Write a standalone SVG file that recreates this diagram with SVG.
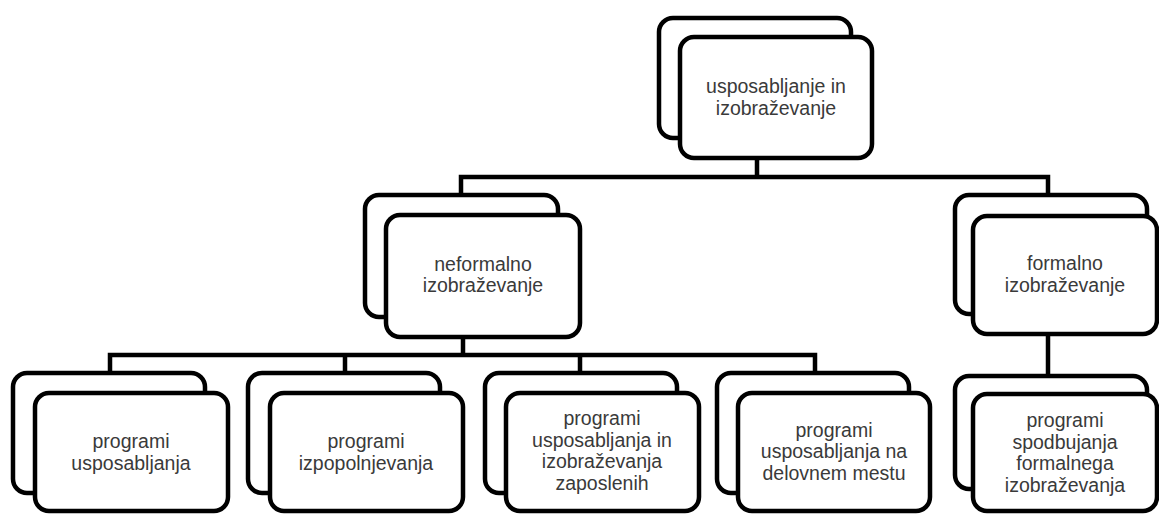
<svg xmlns="http://www.w3.org/2000/svg" width="1159" height="514" viewBox="0 0 1159 514">
<style>
.b{fill:#fff;stroke:#000;stroke-width:4.5}
.c{fill:none;stroke:#000;stroke-width:4.5}
text{font-family:"Liberation Sans",Arial,sans-serif;font-size:19.5px;fill:#3a3a3a;text-anchor:middle}
</style>
<rect width="1159" height="514" fill="#fff"/>
<g id="connectors">
<path class="c" d="M757 158V177M461 195V177H1048V195"/>
<path class="c" d="M463 337V355M110 373V355H815V373M345 355V373M580 355V373"/>
<path class="c" d="M1048 334V376"/>
</g>
<g id="n-top">
<rect class="b" x="659" y="18" width="192" height="120" rx="14"/>
<rect class="b" x="680" y="37" width="192" height="121" rx="14"/>
<text x="776" y="93">usposabljanje in</text>
<text x="776" y="115">izobraževanje</text>
</g>
<g id="n-neformalno">
<rect class="b" x="365" y="195" width="193" height="122" rx="14"/>
<rect class="b" x="386" y="215" width="194" height="122" rx="14"/>
<text x="483" y="271">neformalno</text>
<text x="483" y="292">izobraževanje</text>
</g>
<g id="n-formalno">
<rect class="b" x="955" y="195" width="192" height="119" rx="14"/>
<rect class="b" x="973" y="216" width="184" height="118" rx="14"/>
<text x="1065" y="270">formalno</text>
<text x="1065" y="292">izobraževanje</text>
</g>
<g id="n-p1">
<rect class="b" x="13" y="373" width="192" height="120" rx="14"/>
<rect class="b" x="35" y="393" width="193" height="118" rx="14"/>
<text x="131" y="448">programi</text>
<text x="131" y="470">usposabljanja</text>
</g>
<g id="n-p2">
<rect class="b" x="248" y="373" width="192" height="120" rx="14"/>
<rect class="b" x="270" y="393" width="193" height="118" rx="14"/>
<text x="366" y="448">programi</text>
<text x="366" y="470">izpopolnjevanja</text>
</g>
<g id="n-p3">
<rect class="b" x="485" y="373" width="192" height="120" rx="14"/>
<rect class="b" x="506" y="393" width="193" height="118" rx="14"/>
<text x="602" y="425">programi</text>
<text x="602" y="447">usposabljanja in</text>
<text x="602" y="468">izobraževanja</text>
<text x="602" y="490">zaposlenih</text>
</g>
<g id="n-p4">
<rect class="b" x="717" y="373" width="192" height="120" rx="14"/>
<rect class="b" x="738" y="393" width="192" height="118" rx="14"/>
<text x="834" y="437">programi</text>
<text x="834" y="458">usposabljanja na</text>
<text x="834" y="480">delovnem mestu</text>
</g>
<g id="n-p5">
<rect class="b" x="955" y="376" width="192" height="113" rx="14"/>
<rect class="b" x="973" y="394" width="184" height="117" rx="14"/>
<text x="1065" y="427">programi</text>
<text x="1065" y="449">spodbujanja</text>
<text x="1065" y="470">formalnega</text>
<text x="1065" y="492">izobraževanja</text>
</g>
</svg>
